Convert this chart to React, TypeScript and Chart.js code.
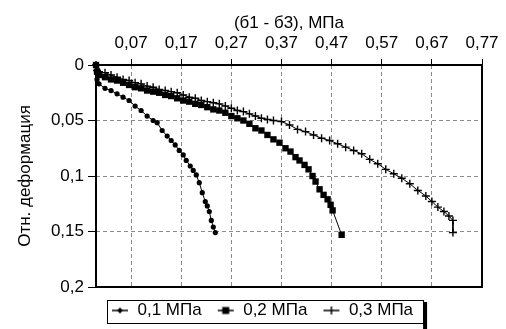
import React, { useEffect, useRef } from "react";
import { Chart, registerables } from "chart.js";

Chart.register(...registerables);

// ---- data ----
const seriesLabels = ["0,1 МПа", "0,2 МПа", "0,3 МПа"];

const s1X = [0, 0.002, 0.006, 0.018, 0.03, 0.042, 0.054, 0.066, 0.078, 0.09, 0.102, 0.114, 0.122, 0.132, 0.142, 0.15, 0.158, 0.166, 0.174, 0.18, 0.188, 0.194, 0.2, 0.206, 0.212, 0.218, 0.222, 0.226, 0.23, 0.234, 0.238];
const s1Y = [0, 0.013, 0.017, 0.021, 0.023, 0.026, 0.029, 0.032, 0.037, 0.041, 0.046, 0.05, 0.052, 0.059, 0.064, 0.068, 0.072, 0.077, 0.081, 0.086, 0.091, 0.095, 0.099, 0.106, 0.115, 0.123, 0.127, 0.132, 0.14, 0.146, 0.151];

const s2X = [0, 0.002, 0.006, 0.018, 0.03, 0.042, 0.054, 0.066, 0.078, 0.09, 0.102, 0.114, 0.126, 0.138, 0.15, 0.162, 0.174, 0.186, 0.198, 0.21, 0.222, 0.234, 0.246, 0.258, 0.27, 0.282, 0.294, 0.306, 0.318, 0.33, 0.342, 0.354, 0.366, 0.378, 0.388, 0.398, 0.406, 0.416, 0.424, 0.432, 0.438, 0.446, 0.454, 0.462, 0.468, 0.472, 0.49];
const s2Y = [0, 0.006, 0.009, 0.011, 0.013, 0.014, 0.016, 0.018, 0.02, 0.021, 0.023, 0.024, 0.025, 0.027, 0.028, 0.03, 0.032, 0.033, 0.035, 0.036, 0.038, 0.04, 0.041, 0.043, 0.046, 0.048, 0.05, 0.053, 0.057, 0.059, 0.063, 0.067, 0.07, 0.075, 0.078, 0.083, 0.086, 0.09, 0.094, 0.1, 0.105, 0.112, 0.117, 0.121, 0.126, 0.131, 0.153];

const s3X = [0, 0.002, 0.006, 0.018, 0.03, 0.042, 0.054, 0.066, 0.078, 0.09, 0.102, 0.114, 0.126, 0.138, 0.15, 0.162, 0.174, 0.186, 0.198, 0.21, 0.222, 0.234, 0.246, 0.258, 0.27, 0.282, 0.294, 0.306, 0.318, 0.33, 0.342, 0.354, 0.37, 0.386, 0.402, 0.418, 0.434, 0.45, 0.466, 0.482, 0.498, 0.514, 0.53, 0.546, 0.562, 0.578, 0.594, 0.61, 0.626, 0.642, 0.658, 0.67, 0.682, 0.694, 0.704, 0.712, 0.712];
const s3Y = [0, 0.005, 0.006, 0.007, 0.009, 0.011, 0.013, 0.014, 0.016, 0.017, 0.019, 0.02, 0.022, 0.023, 0.024, 0.025, 0.027, 0.029, 0.03, 0.032, 0.033, 0.034, 0.035, 0.037, 0.039, 0.041, 0.042, 0.044, 0.046, 0.048, 0.049, 0.05, 0.051, 0.054, 0.058, 0.06, 0.063, 0.066, 0.068, 0.071, 0.074, 0.077, 0.08, 0.085, 0.089, 0.094, 0.098, 0.102, 0.107, 0.113, 0.118, 0.123, 0.128, 0.132, 0.136, 0.14, 0.151];

const xTickValues = [0.07, 0.17, 0.27, 0.37, 0.47, 0.57, 0.67, 0.77];
const yTickValues = [0, 0.05, 0.1, 0.15, 0.2];
const xTitle = "(б1 - б3), МПа";
const yTitle = "Отн. деформация";

const FONT = "'Liberation Sans', Arial, sans-serif";

const fmt = (v: number) => String(parseFloat(Number(v).toFixed(2))).replace(".", ",");
const toPoints = (xs: number[], ys: number[]) => xs.map((x, i) => ({ x, y: ys[i] }));

function makeIcon(kind: number): HTMLCanvasElement {
  const c = document.createElement("canvas");
  c.width = 18;
  c.height = 10;
  const g = c.getContext("2d")!;
  g.fillStyle = "#000";
  g.strokeStyle = "#000";
  g.lineWidth = 1.5;
  g.beginPath();
  g.moveTo(1, 5);
  g.lineTo(17, 5);
  g.stroke();
  if (kind === 0) {
    g.beginPath();
    g.moveTo(9, 2);
    g.lineTo(12, 5);
    g.lineTo(9, 8);
    g.lineTo(6, 5);
    g.closePath();
    g.fill();
  } else if (kind === 1) {
    g.fillRect(5.5, 1.5, 7, 7);
  } else {
    g.beginPath();
    g.moveTo(9, 1);
    g.lineTo(9, 9);
    g.stroke();
  }
  return c;
}

const framePlugin = {
  id: "frameAndLegendBox",
  afterDatasetsDraw(chart: any) {
    const { ctx, chartArea: a } = chart;
    ctx.save();
    ctx.strokeStyle = "#000";
    ctx.lineWidth = 2;
    ctx.strokeRect(a.left, a.top, a.right - a.left, a.bottom - a.top);
    ctx.restore();
  },
  afterDraw(chart: any) {
    const lg = chart.legend;
    if (!lg || !lg.legendHitBoxes || !lg.legendHitBoxes.length) return;
    const hb = lg.legendHitBoxes;
    const first = hb[0];
    const last = hb[hb.length - 1];
    const left = first.left - 4;
    const right = last.left + last.width + 10;
    const top = first.top - 2;
    const bottom = first.top + first.height + 4;
    const { ctx } = chart;
    ctx.save();
    ctx.strokeStyle = "#000";
    ctx.lineWidth = 1;
    ctx.strokeRect(left + 0.5, top + 0.5, right - left, bottom - top);
    ctx.fillStyle = "#000";
    ctx.fillRect(right, top + 2, 4, bottom - top + 8);
    ctx.restore();
  },
};

export default function App() {
  const ref = useRef<HTMLCanvasElement | null>(null);

  useEffect(() => {
    if (!ref.current) return;
    const icons = [makeIcon(0), makeIcon(1), makeIcon(2)];
    const chart = new Chart(ref.current, {
      type: "scatter",
      data: {
        datasets: [
          {
            label: seriesLabels[0],
            data: toPoints(s1X, s1Y),
            showLine: true,
            borderColor: "#000",
            backgroundColor: "#000",
            borderWidth: 1,
            pointStyle: "circle",
            pointRadius: 2.6,
            pointBorderWidth: 0,
            clip: 6,
          },
          {
            label: seriesLabels[1],
            data: toPoints(s2X, s2Y),
            showLine: true,
            borderColor: "#000",
            backgroundColor: "#000",
            borderWidth: 1,
            pointStyle: "rect",
            pointRadius: 4.5,
            pointBorderWidth: 0,
            clip: 6,
          },
          {
            label: seriesLabels[2],
            data: toPoints(s3X, s3Y),
            showLine: true,
            borderColor: "#000",
            backgroundColor: "#000",
            borderWidth: 1,
            pointStyle: "cross",
            pointRadius: 4,
            pointBorderWidth: 1.4,
            clip: 6,
          },
        ],
      },
      options: {
        responsive: false,
        animation: false,
        devicePixelRatio: 1,
        layout: { padding: { left: 0, right: 24, top: 0, bottom: 0 } },
        plugins: {
          tooltip: { enabled: false },
          legend: {
            display: true,
            position: "bottom",
            fullSize: false,
            align: "start",
            labels: {
              usePointStyle: true,
              pointStyleWidth: 18,
              boxHeight: 10,
              padding: 15,
              color: "#000",
              font: { family: FONT, size: 17 },
              generateLabels: (ch: any) =>
                ch.data.datasets.map((ds: any, i: number) => ({
                  text: ds.label,
                  pointStyle: icons[i],
                  fillStyle: "#000",
                  strokeStyle: "#000",
                  lineWidth: 0,
                  hidden: false,
                  datasetIndex: i,
                  fontColor: "#000",
                })),
            },
          },
        },
        scales: {
          x: {
            type: "linear",
            position: "top",
            min: 0,
            max: 0.77,
            afterBuildTicks: (s: any) => {
              s.ticks = xTickValues.map((v) => ({ value: v }));
            },
            afterFit: (s: any) => {
              s.height = 65;
            },
            ticks: {
              autoSkip: false,
              maxRotation: 0,
              color: "#000",
              padding: 5,
              font: { family: FONT, size: 17 },
              callback: (v: any) => fmt(v),
            },
            grid: {
              color: "#8a8a8a",
              lineWidth: 1,
              tickColor: "#000",
              tickLength: 6,
              tickBorderDash: [],
            },
            border: { display: false, dash: [4, 3] },
            title: {
              display: true,
              text: xTitle,
              color: "#000",
              font: { family: FONT, size: 17 },
              padding: { top: 13, bottom: 0 },
            },
          },
          y: {
            type: "linear",
            reverse: true,
            min: 0,
            max: 0.2,
            afterBuildTicks: (s: any) => {
              s.ticks = yTickValues.map((v) => ({ value: v }));
            },
            afterFit: (s: any) => {
              s.width = 96;
            },
            ticks: {
              color: "#000",
              padding: 4,
              font: { family: FONT, size: 17 },
              callback: (v: any) => fmt(v),
            },
            grid: {
              color: "#8a8a8a",
              lineWidth: 1,
              tickColor: "#000",
              tickLength: 8,
              tickBorderDash: [],
            },
            border: { display: false, dash: [4, 3] },
            title: {
              display: true,
              text: yTitle,
              color: "#000",
              font: { family: FONT, size: 17 },
              padding: { top: 15, bottom: 0 },
            },
          },
        },
      },
      plugins: [framePlugin],
    } as any);
    return () => chart.destroy();
  }, []);

  return (
    <div style={{ position: "fixed", left: 0, top: 0, width: 506, height: 329, background: "#fff" }}>
      <canvas ref={ref} width={506} height={329} style={{ display: "block" }} />
    </div>
  );
}
